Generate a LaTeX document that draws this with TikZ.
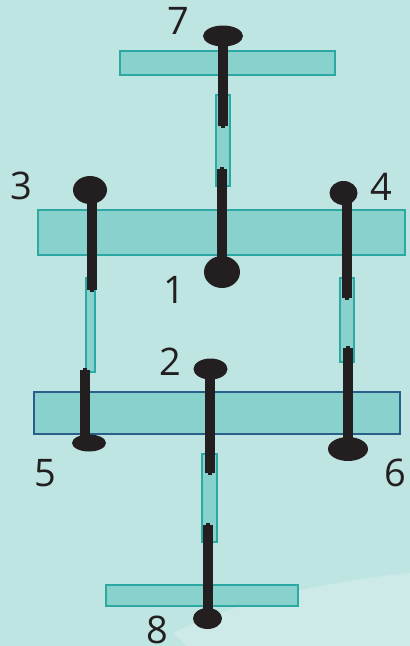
\documentclass[tikz,border=0pt]{standalone}
\usepackage{fontspec}
\setmainfont{Open Sans}
\usetikzlibrary{arrows.meta,shapes.geometric}

\definecolor{paleback}{HTML}{BEE5E1}
\definecolor{paleswirl}{HTML}{CDEAE9}
\definecolor{barfill}{HTML}{89D1CC}
\definecolor{baredge}{HTML}{2BA9A2}
\definecolor{bluedge}{HTML}{2A5F8B}
\definecolor{inkblack}{HTML}{231F20}

\tikzset{
    bar/.style={fill=barfill, draw=baredge, line width=2pt},
    head/.style={ellipse, fill=inkblack, inner sep=0pt},
    stem/.style={line width=10pt, draw=inkblack, -{Rectangle[length=3pt,width=4pt]}},
    numlabel/.style={font=\fontsize{38}{38}\selectfont, text=inkblack, inner sep=0pt}
}

\begin{document}
\begin{tikzpicture}[x=1pt, y=-1pt]
    \useasboundingbox (0,0) rectangle (410,646);
    \fill[paleback] (0,0) rectangle (410,646);
    \fill[paleswirl] (410,573) .. controls (330,581) and (240,600) .. (173,633) -- (187,646) -- (410,646) -- cycle;

    % plates and thin links
    \draw[bar] (119.5,51) rectangle (335,74.5);
    \draw[bar] (38,210.3) rectangle (405.2,255.3);
    \draw[bar, draw=bluedge] (34,391.5) rectangle (400.2,434.3);
    \draw[bar] (106,585) rectangle (298,605.5);
    \draw[bar] (216,95) rectangle (229.5,186);
    \draw[bar] (86,278) rectangle (94.5,372);
    \draw[bar] (339.5,278) rectangle (353.5,362);
    \draw[bar] (201.5,454) rectangle (216.5,542);

    \foreach \name/\x/\y/\rx/\ry/\tipx/\tipy in {
        7/223/36/40/21/223/128,
        3/90/190/34/28/92/292,
        4/343.5/193/28/24/347/300,
        1/222/272/36/32/222/167,
        2/210.5/369/34/21/210/475,
        5/89/443/34/17/84.5/368,
        6/348/449/40/24/348/346,
        8/207.5/618.5/29/21/208/523}
    {
        \node[head, minimum width=\rx pt, minimum height=\ry pt] (head\name) at (\x,\y) {};
        \coordinate (tip\name) at (\tipx,\tipy);
        \draw[stem] (head\name.center -| tip\name) -- (tip\name);
    }

    \foreach \name/\x/\y in {
        7/178/21,
        3/21.5/186,
        4/381/187,
        1/174/290,
        2/170/362,
        5/45/473,
        6/395/473,
        8/157/629.5}
    {
        \node[numlabel] (label\name) at (\x,\y) {\name};
    }
\end{tikzpicture}
\end{document}
